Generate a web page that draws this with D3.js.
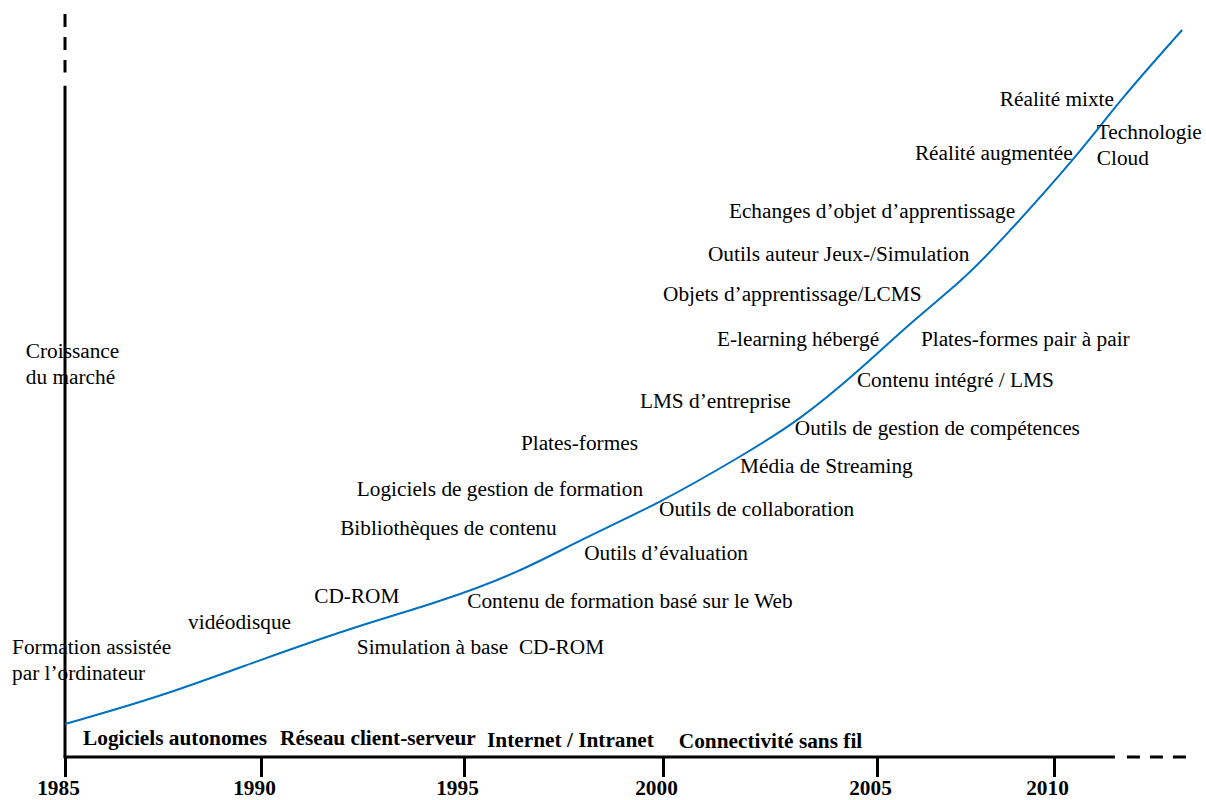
<!DOCTYPE html>
<html>
<head>
<meta charset="utf-8">
<script src="https://cdn.jsdelivr.net/npm/d3@7/dist/d3.min.js"></script>
<style>
  body { margin: 0; background: #fff; }
  svg text { font-family: "Liberation Serif", "Times New Roman", serif; fill: #000; white-space: pre; }
</style>
</head>
<body>
<div id="chart"></div>
<script>
// years shown under the time axis
const tickYears = [1985, 1990, 1995, 2000, 2005, 2010];

// market growth curve (year, relative value 0-100)
const curveYears  = [1985, 1987.42, 1989.97, 1992.44, 1994.41, 1996.41, 1997.91, 1999.92, 2001.8, 2003.2, 2004.6, 2005.93, 2007.43, 2008.53, 2010.73, 2011.86, 2013.62];
const curveValues = [4.46, 8.11, 13.11, 17.84, 20.95, 25.0, 29.32, 34.32, 40.54, 45.54, 52.3, 58.65, 64.46, 69.86, 81.62, 88.78, 98.24];

// technologies along the curve: text lines, year, value
const techLabels = [
  ["Formation assistée|par l’ordinateur", 1983.65, 13.9],
  ["vidéodisque", 1988.14, 17.3],
  ["CD-ROM", 1991.31, 20.8],
  ["Simulation à base  CD-ROM", 1992.36, 13.9],
  ["Contenu de formation basé sur le Web", 1995.08, 20.1],
  ["Bibliothèques de contenu", 1991.95, 30.0],
  ["Outils d’évaluation", 1998.02, 26.6],
  ["Logiciels de gestion de formation", 1992.36, 35.3],
  ["Plates-formes", 1996.43, 41.5],
  ["Outils de collaboration", 1999.9, 32.6],
  ["Média de Streaming", 2001.8, 38.4],
  ["LMS d’entreprise", 1999.42, 47.2],
  ["Outils de gestion de compétences", 2003.08, 43.5],
  ["Contenu intégré / LMS", 2004.53, 50.0],
  ["E-learning hébergé", 2001.26, 55.5],
  ["Plates-formes pair à pair", 2006.24, 55.5],
  ["Objets d’apprentissage/LCMS", 2000.0, 61.6],
  ["Outils auteur Jeux-/Simulation", 2001.05, 67.0],
  ["Echanges d’objet d’apprentissage", 2001.54, 72.8],
  ["Réalité augmentée", 2006.07, 80.7],
  ["Réalité mixte", 2008.47, 88.0],
  ["Technologie|Cloud", 2011.21, 83.5]
];

// network eras written along the time axis
const eraNames  = ["Logiciels autonomes", "Réseau client-serveur", "Internet / Intranet", "Connectivité sans fil"];
const eraYears  = [1985.46, 1990.47, 1995.58, 2000.37];
const eraValues = [1.6, 1.6, 1.35, 1.2];

const yTitle = ["Croissance", "du marché"];

const width = 1206, height = 800;
const serif = '"Liberation Serif", "Times New Roman", serif';

const svg = d3.select('#chart')
  .append('svg')
  .attr('width', width)
  .attr('height', height);

// the time axis in the original is not evenly spaced
const x = d3.scaleLinear()
  .domain(tickYears)
  .range([65, 261, 464, 663, 877, 1054]);

const y = d3.scaleLinear()
  .domain([0, 100])
  .range([757, 17]);

const lineH = 26;
const fs = 21.3;

// y axis: solid then dashed on top
svg.append('line')
  .attr('x1', x(1985)).attr('x2', x(1985))
  .attr('y1', y(0)).attr('y2', y(90.7))
  .attr('stroke', '#000').attr('stroke-width', 3);
svg.append('line')
  .attr('x1', x(1985)).attr('x2', x(1985))
  .attr('y1', y(100.4)).attr('y2', y(92.5))
  .attr('stroke', '#000').attr('stroke-width', 3)
  .attr('stroke-dasharray', '13,10');

// x axis
const xAxis = d3.axisBottom(x)
  .tickValues(tickYears)
  .tickFormat(d3.format('d'))
  .tickSize(20)
  .tickPadding(10);

const gx = svg.append('g')
  .attr('transform', `translate(0,${y(0)})`)
  .call(xAxis);
gx.select('.domain').remove();
gx.selectAll('.tick line').attr('stroke', '#000').attr('stroke-width', 3);
gx.selectAll('.tick text')
  .attr('x', -7)
  .attr('y', 38)
  .attr('dy', null)
  .style('font-family', serif)
  .style('font-size', fs + 'px')
  .style('font-weight', 'bold')
  .attr('fill', '#000');

svg.append('line')
  .attr('x1', x(1985) - 1.5).attr('x2', x(2011.72))
  .attr('y1', y(0)).attr('y2', y(0))
  .attr('stroke', '#000').attr('stroke-width', 3);
svg.append('line')
  .attr('x1', x(2012.06)).attr('x2', x(2013.76))
  .attr('y1', y(0)).attr('y2', y(0))
  .attr('stroke', '#000').attr('stroke-width', 3)
  .attr('stroke-dasharray', '13,10');

// growth curve
const curve = d3.line()
  .x(d => x(d[0]))
  .y(d => y(d[1]))
  .curve(d3.curveBasis);

svg.append('path')
  .datum(d3.zip(curveYears, curveValues))
  .attr('d', curve)
  .attr('fill', 'none')
  .attr('stroke', '#0070C0')
  .attr('stroke-width', 2);

// labels
const labels = svg.append('g')
  .selectAll('text')
  .data(techLabels)
  .enter().append('text')
    .attr('x', d => x(d[1]))
    .attr('y', d => y(d[2]))
    .style('font-family', serif)
    .style('font-size', fs + 'px');

labels.selectAll('tspan')
  .data(d => d[0].split('|').map(t => [t, x(d[1])]))
  .enter().append('tspan')
    .attr('x', d => d[1])
    .attr('dy', (d, i) => i ? lineH : 0)
    .text(d => d[0]);

svg.append('text')
  .attr('x', x(1984.0))
  .attr('y', y(53.9))
  .style('font-family', serif)
  .style('font-size', fs + 'px')
  .selectAll('tspan')
  .data(yTitle)
  .enter().append('tspan')
    .attr('x', x(1984.0))
    .attr('dy', (d, i) => i ? lineH : 0)
    .text(d => d);

svg.append('g')
  .selectAll('text')
  .data(eraNames)
  .enter().append('text')
    .attr('x', (d, i) => x(eraYears[i]))
    .attr('y', (d, i) => y(eraValues[i]))
    .style('font-family', serif)
    .style('font-size', fs + 'px')
    .style('font-weight', 'bold')
    .text(d => d);
</script>
</body>
</html>
